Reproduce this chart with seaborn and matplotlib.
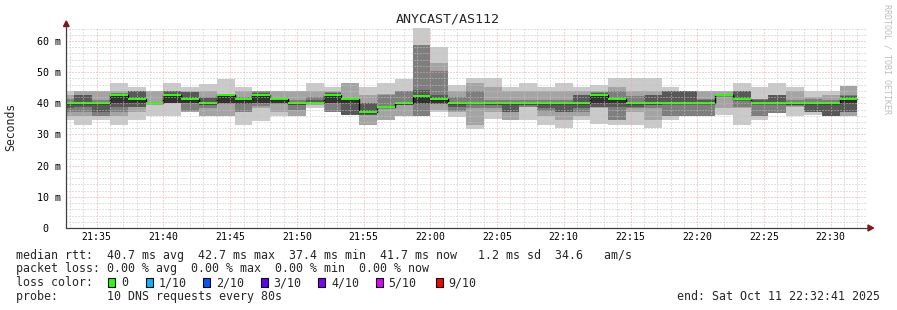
import numpy as np
import pandas as pd
import matplotlib
matplotlib.use("Agg")
import matplotlib.pyplot as plt
import seaborn as sns
from matplotlib.patches import Rectangle, Polygon
from matplotlib.lines import Line2D

sns.set_style("white")
plt.rcParams['font.family'] = ['DejaVu Sans Mono', 'DejaVu Sans']

# ---------------- data (ms) ----------------
start_time = "2025-10-11 21:32:00"
step_seconds = 80
n_cols = 45

ping1 = [34.6, 33.2, 34.6, 33.2, 34.6, 35.9, 36.0, 37.3, 36.0, 35.9, 33.2, 34.2, 35.9, 35.9, 38.6,
         37.2, 36.3, 33.0, 34.6, 35.9, 35.8, 37.3, 35.7, 31.9, 35.0, 34.5, 34.6, 33.1, 32.0, 34.6,
         33.4, 33.2, 33.2, 32.0, 34.6, 36.0, 36.0, 36.3, 33.2, 34.6, 37.0, 35.9, 36.3, 36.0, 36.0]
ping2 = [35.9, 35.9, 35.9, 35.9, 37.3, 39.9, 40.0, 37.3, 36.0, 35.9, 37.2, 38.6, 37.3, 35.9, 39.8,
         37.3, 36.3, 33.0, 34.7, 35.9, 35.9, 38.0, 37.3, 33.2, 37.3, 34.6, 38.7, 35.9, 34.6, 35.9,
         38.6, 34.6, 37.3, 34.7, 35.9, 36.0, 36.0, 38.6, 38.6, 35.9, 37.0, 38.7, 37.3, 36.0, 36.0]
ping3 = [37.3, 37.3, 36.0, 37.3, 38.7, 39.9, 40.0, 37.5, 38.5, 39.9, 37.3, 39.0, 39.9, 38.0, 39.8,
         37.3, 36.3, 36.3, 38.6, 39.5, 35.9, 39.8, 37.5, 38.5, 38.5, 37.3, 38.8, 37.5, 37.3, 37.3,
         38.7, 34.6, 38.6, 38.5, 35.9, 36.0, 36.0, 42.3, 38.7, 35.9, 37.0, 39.0, 37.3, 36.0, 37.3]
ping4 = [38.5, 38.7, 37.3, 38.7, 38.7, 40.0, 40.0, 40.0, 39.5, 40.0, 39.9, 40.0, 40.0, 39.5, 39.8,
         40.0, 36.3, 36.3, 38.7, 39.5, 39.9, 39.9, 38.7, 39.8, 39.5, 37.3, 39.5, 38.5, 37.3, 38.5,
         38.7, 38.7, 38.7, 39.5, 39.8, 39.8, 39.8, 42.4, 41.0, 39.8, 39.8, 39.5, 37.3, 36.0, 37.3]
ping5 = [39.9, 39.9, 39.9, 40.0, 40.0, 39.9, 40.0, 40.0, 39.9, 40.0, 40.0, 40.0, 40.0, 39.9, 39.9,
         40.0, 40.0, 37.2, 38.8, 39.9, 40.0, 40.0, 39.9, 39.9, 39.9, 39.9, 39.9, 39.9, 39.9, 39.9,
         40.0, 40.0, 39.9, 39.9, 39.9, 39.9, 39.9, 42.5, 41.2, 39.9, 39.9, 39.9, 39.9, 39.9, 40.0]
median = [40.0, 40.0, 40.0, 42.6, 41.5, 40.0, 42.6, 41.4, 40.0, 42.6, 41.4, 42.6, 41.4, 40.0, 40.0,
          42.6, 41.5, 37.3, 38.9, 40.0, 42.4, 41.4, 40.0, 40.0, 40.0, 40.0, 40.0, 40.0, 40.0, 40.0,
          42.6, 41.4, 40.0, 40.0, 40.0, 40.0, 40.0, 42.6, 41.4, 40.0, 40.0, 40.0, 40.0, 40.0, 41.5]
ping7 = [40.5, 42.6, 40.1, 42.8, 43.9, 40.5, 43.8, 43.7, 41.8, 42.7, 41.5, 43.2, 41.5, 40.5, 41.0,
         43.2, 41.5, 40.0, 39.0, 40.0, 44.3, 42.8, 40.0, 40.1, 40.1, 40.1, 40.2, 40.2, 40.2, 42.6,
         43.3, 41.5, 40.1, 42.7, 43.8, 43.8, 41.2, 42.7, 43.8, 41.2, 42.6, 40.2, 40.2, 40.2, 42.5]
ping8 = [41.3, 42.6, 41.0, 43.3, 43.9, 40.5, 44.0, 43.7, 42.0, 42.7, 42.0, 43.9, 41.5, 41.0, 42.0,
         43.5, 41.6, 40.0, 42.7, 43.9, 58.6, 50.3, 42.0, 43.9, 41.0, 41.0, 41.0, 41.0, 41.0, 42.6,
         43.5, 43.9, 42.5, 42.7, 43.9, 43.9, 41.3, 42.8, 43.9, 41.3, 42.6, 41.0, 41.5, 41.0, 42.6]
ping9 = [42.6, 43.9, 43.9, 43.9, 43.9, 43.9, 44.0, 43.8, 43.9, 42.8, 43.9, 43.9, 43.9, 43.9, 43.9,
         43.9, 46.4, 42.7, 43.0, 43.9, 58.7, 52.8, 43.9, 46.4, 45.2, 43.9, 43.9, 43.9, 43.9, 43.9,
         43.9, 45.2, 43.9, 43.9, 43.9, 43.9, 43.9, 43.9, 43.9, 41.3, 42.6, 43.9, 42.0, 42.7, 45.6]
ping10 = [43.9, 43.9, 43.9, 46.4, 45.3, 43.9, 46.4, 45.3, 46.1, 47.7, 45.2, 44.0, 43.9, 43.9, 46.4,
          45.3, 46.4, 45.2, 46.4, 47.9, 64.1, 58.2, 45.9, 48.0, 48.0, 45.2, 46.4, 45.3, 46.4, 45.3,
          45.9, 48.0, 48.0, 48.0, 45.3, 43.9, 43.9, 43.9, 46.4, 45.3, 46.4, 45.3, 43.9, 43.9, 45.6]

x_tick_labels = ["21:35", "21:40", "21:45", "21:50", "21:55", "22:00", "22:05",
                 "22:10", "22:15", "22:20", "22:25", "22:30"]
y_tick_values = [0, 10, 20, 30, 40, 50, 60]
y_tick_labels = ["0  ", "10 m", "20 m", "30 m", "40 m", "50 m", "60 m"]
view_start = "2025-10-11 21:32:41"
view_end = "2025-10-11 22:32:41"

loss_labels = ["0", "1/10", "2/10", "3/10", "4/10", "5/10", "9/10"]
loss_colors = ["#26ff00", "#00b8ff", "#0059ff", "#5e00ff", "#7e00ff", "#dd00ff", "#ff0000"]

legend_rtt = "median rtt:  40.7 ms avg  42.7 ms max  37.4 ms min  41.7 ms now   1.2 ms sd  34.6   am/s"
legend_loss = "packet loss: 0.00 % avg  0.00 % max  0.00 % min  0.00 % now"
legend_probe = "probe:       10 DNS requests every 80s"
legend_end = "end: Sat Oct 11 22:32:41 2025"

# ---------------- helpers ----------------
day0 = pd.Timestamp("2025-10-11 21:00:00")
def to_min(t):
    return (pd.Timestamp(t) - day0).total_seconds() / 60.0

times = pd.date_range(start_time, periods=n_cols + 1, freq=f"{step_seconds}s")
edges = np.array([(t - day0).total_seconds() / 60.0 for t in times])
def ext(a):
    a = np.asarray(a, float)
    return np.append(a, a[-1])

W, H = 897, 310
fig = plt.figure(figsize=(W / 100, H / 100), dpi=100, facecolor="white")
ax_l, ax_r, ax_b, ax_t = 65.8, 866.5, 228, 28
ax = fig.add_axes([ax_l / W, (H - ax_b) / H, (ax_r - ax_l) / W, (ax_b - ax_t) / H])
ax.set_facecolor("white")
ax.set_xlim(to_min(view_start), to_min(view_end))
ax.set_ylim(0, 64.17)

# smoke bands
bands = [(ping1, ping10, "#cacaca"), (ping2, ping9, "#a4a4a4"), (ping3, ping8, "#7e7e7e"),
         (ping4, ping7, "#585858"), (ping5, median, "#323232")]
for lo, hi, c in bands:
    ax.fill_between(edges, ext(lo), ext(hi), step="post", color=c, lw=0, zorder=1)

# median: black step line + green loss-colour band
sns.lineplot(x=edges, y=ext(median), drawstyle="steps-post", color="black", lw=1.0,
             estimator=None, sort=False, ax=ax, zorder=2)
ax.fill_between(edges, ext(median) - 0.33, ext(median) + 0.33, step="post",
                color=loss_colors[0], lw=0, zorder=3)

# grid
for m in range(33, 93):
    major = (m % 5 == 0)
    ax.axvline(m, color="#f2a0a0" if major else "#c4c4c4", lw=0.72,
               ls=(0, (1, 2)), zorder=4)
for v in range(2, 65, 2):
    major = (v % 10 == 0)
    ax.axhline(v, color="#f2a0a0" if major else "#c4c4c4", lw=0.72,
               ls=(0, (1, 2)), zorder=4)

for s in ax.spines.values():
    s.set_visible(False)
ax.set_xticks([to_min(f"2025-10-11 {l}:00") for l in x_tick_labels])
ax.set_xticklabels(x_tick_labels)
ax.set_yticks(y_tick_values)
ax.set_yticklabels(y_tick_labels)
ax.tick_params(axis="x", length=0, pad=3.2, labelsize=7.1, colors="black")
ax.tick_params(axis="y", length=0, pad=3.4, labelsize=7.2, colors="black")
ax.set_xlabel("")
ax.set_ylabel("")

def fx(px):
    return px / W
def fy(py):
    return 1 - py / H

# axes lines and arrows
axis_col = "#404040"
fig.add_artist(Line2D([fx(66.3), fx(869)], [fy(228), fy(228)], color=axis_col, lw=0.9))
fig.add_artist(Line2D([fx(66.3), fx(66.3)], [fy(228.4), fy(25)], color=axis_col, lw=0.9))
fig.add_artist(Polygon([[fx(868), fy(225)], [fx(873.5), fy(228)], [fx(868), fy(231)]],
                       closed=True, color="#8b1010", transform=fig.transFigure))
fig.add_artist(Polygon([[fx(63.5), fy(26.5)], [fx(66.3), fy(21)], [fx(69.1), fy(26.5)]],
                       closed=True, color="#8b1010", transform=fig.transFigure))

# titles
fig.text(fx(448), fy(19), "ANYCAST/AS112", ha="center", va="center", fontsize=9.6)
fig.text(fx(11), fy(127), "Seconds", ha="center", va="center", rotation=90, fontsize=8.3)
fig.text(fx(887), fy(59), "RRDTOOL / TOBI OETIKER", ha="center", va="center",
         rotation=270, fontsize=6.0, color="#bdbdbd")

# legend lines
fs = 8.4
def t(px, py, s, **kw):
    fig.text(fx(px), fy(py), s, ha="left", va="center", fontsize=fs, **kw)

y1, y2, y3, y4 = 255, 268.5, 282.5, 296.5
t(15.5, y1, legend_rtt)
t(15.5, y2, legend_loss)
t(15.5, y3, "loss color:")
box_x = [107.5, 145.5, 202.5, 260.5, 317.5, 375.5, 435.5]
lab_x = [121.5, 158.5, 216.5, 273.5, 331.5, 388.5, 448.5]
for bx, lx, lab, col in zip(box_x, lab_x, loss_labels, loss_colors):
    fig.add_artist(Rectangle((fx(bx), fy(286.5)), 7.5 / W, 8.5 / H, facecolor=col,
                             edgecolor="black", lw=0.8, transform=fig.transFigure))
    t(lx, y3, lab)
t(15.5, y4, legend_probe)
t(677, y4, legend_end)

fig.savefig("out.png", dpi=100, facecolor="white")
